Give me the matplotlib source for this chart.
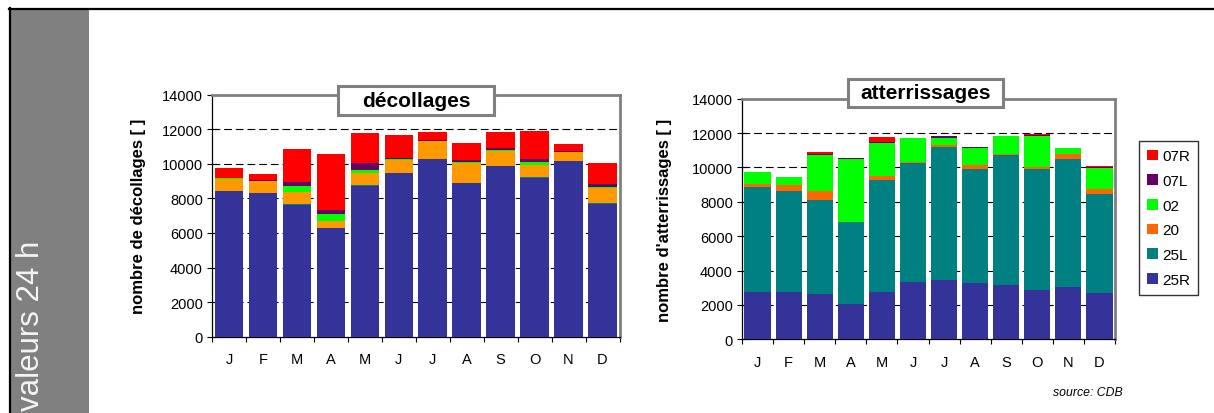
import matplotlib
matplotlib.use("Agg")
import matplotlib.pyplot as plt
from matplotlib.patches import Rectangle, Patch
from matplotlib.lines import Line2D
import numpy as np

plt.rcParams['font.family'] = ['Liberation Sans', 'DejaVu Sans']

months = ["J", "F", "M", "A", "M", "J", "J", "A", "S", "O", "N", "D"]
runways = ["25R", "25L", "20", "02", "07L", "07R"]

# décollages (take-offs) per runway, per month
dep_25R = [8420, 8300, 7630, 6260, 8730, 9460, 10270, 8880, 9850, 9190, 10150, 7670]
dep_25L = [30, 20, 40, 40, 60, 10, 10, 10, 40, 40, 10, 40]
dep_20 = [650, 680, 710, 390, 670, 760, 1030, 1170, 840, 690, 510, 900]
dep_02 = [60, 20, 330, 400, 170, 40, 20, 60, 60, 180, 20, 40]
dep_07L = [30, 40, 250, 230, 410, 60, 40, 90, 120, 150, 20, 170]
dep_07R = [560, 350, 1890, 3240, 1730, 1330, 460, 980, 920, 1640, 430, 1220]

# atterrissages (landings) per runway, per month
arr_25R = [2770, 2770, 2640, 2060, 2770, 3350, 3470, 3300, 3180, 2870, 3040, 2710]
arr_25L = [6110, 5880, 5460, 4760, 6520, 6930, 7720, 6630, 7540, 7060, 7470, 5740]
arr_20 = [150, 350, 550, 20, 210, 50, 130, 210, 60, 110, 270, 310]
arr_02 = [700, 440, 2090, 3670, 1940, 1380, 390, 1010, 1050, 1790, 350, 1200]
arr_07L = [0, 0, 30, 60, 40, 0, 120, 60, 0, 50, 0, 60]
arr_07R = [0, 0, 150, 0, 290, 0, 0, 0, 0, 80, 0, 60]

dep_colors = ["#333399", "#008080", "#FF9900", "#00FF00", "#660066", "#FF0000"]
arr_colors = ["#333399", "#008080", "#FF6600", "#00FF00", "#660066", "#FF0000"]

W, H = 1214, 414
fig = plt.figure(figsize=(W / 100, H / 100), dpi=100)


def fx(px):
    return px / W


def fy(py):
    return 1 - py / H


# page frame: side strip and border lines
fig.patches.append(Rectangle((fx(10), 0), fx(89) - fx(10), fy(10.5), transform=fig.transFigure,
                             facecolor="#808080", edgecolor="none", zorder=0))
fig.add_artist(Line2D([fx(9.5), fx(9.5)], [0, fy(9)], transform=fig.transFigure, color="black", lw=1.6))
fig.add_artist(Line2D([fx(8.7), 1], [fy(10), fy(10)], transform=fig.transFigure, color="black", lw=1.6))
fig.text(fx(31), fy(411), "valeurs 24 h", rotation=90, color="#f4f4f4", fontsize=22.5,
         ha="center", va="bottom")


def draw_panel(rect, series, colors, ylabel, title, box, ylabel_x):
    ax = fig.add_axes(rect)
    x = np.arange(len(months))
    bottom = np.zeros(len(months))
    handles = []
    for vals, col, name in zip(series, colors, runways):
        v = np.array(vals, dtype=float)
        h = ax.bar(x, v, width=0.84, bottom=bottom, color=col, edgecolor="none", zorder=3, label=name)
        handles.append(h)
        bottom += v
    ax.set_xlim(-0.5, len(months) - 0.5)
    ax.set_ylim(0, 14000)
    ax.set_yticks(np.arange(0, 14001, 2000))
    ax.tick_params(axis="y", direction="inout", length=7, width=0.8, labelsize=10.5, pad=3)
    ax.set_xticks(np.arange(-0.5, len(months), 1.0))
    ax.set_xticklabels([])
    ax.set_xticks(x, minor=True)
    ax.set_xticklabels(months, minor=True)
    ax.tick_params(axis="x", which="major", direction="out", length=3.5, width=0.8)
    ax.tick_params(axis="x", which="minor", length=0, labelsize=10.5, pad=11)
    for yv in range(2000, 14000, 2000):
        ax.axhline(yv, color="black", lw=0.8, linestyle=(0, (7, 3.5)), zorder=1)
    for s in ("left", "bottom"):
        ax.spines[s].set_color("black")
        ax.spines[s].set_linewidth(0.9)
    for s in ("top", "right"):
        ax.spines[s].set_color("#808080")
        ax.spines[s].set_linewidth(2)
    fig.text(fx(ylabel_x), rect[1] + rect[3] / 2, ylabel, rotation=90, fontsize=12, fontweight="bold",
             ha="center", va="center")
    x0, y0, x1, y1 = box
    fig.patches.append(Rectangle((fx(x0), fy(y1)), fx(x1) - fx(x0), fy(y0) - fy(y1), transform=fig.transFigure,
                                 facecolor="white", edgecolor="#808080", lw=2.2, zorder=5))
    fig.text(fx((x0 + x1) / 2), fy((y0 + y1) / 2), title, fontsize=15, fontweight="bold",
             ha="center", va="center", zorder=6)
    return ax, handles


dep_series = [dep_25R, dep_25L, dep_20, dep_02, dep_07L, dep_07R]
arr_series = [arr_25R, arr_25L, arr_20, arr_02, arr_07L, arr_07R]

draw_panel([fx(212), fy(337.7), fx(619.5) - fx(212), fy(95.6) - fy(337.7)], dep_series, dep_colors,
           "nombre de décollages [ ]", "décollages", (338, 87, 494, 116), 138)
ax2, handles = draw_panel([fx(742), fy(340.3), fx(1115) - fx(742), fy(99.7) - fy(340.3)], arr_series, arr_colors,
                          "nombre d'atterrissages [ ]", "atterrissages", (848, 79.5, 1003, 107.5), 664)

leg = fig.legend(handles=[Patch(facecolor=c, edgecolor="none") for c in arr_colors[::-1]],
                 labels=runways[::-1], loc="upper left", bbox_to_anchor=(fx(1139), fy(142)),
                 fontsize=11, frameon=True, fancybox=False, handlelength=0.7, handleheight=0.7,
                 handletextpad=0.25, labelspacing=0.7, borderpad=0.55, borderaxespad=0)
leg.get_frame().set_edgecolor("black")
leg.get_frame().set_linewidth(1)

fig.text(fx(1123), fy(393), "source: CDB", fontsize=8.8, style="italic", ha="right", va="center")

fig.savefig("out.png", dpi=100)
